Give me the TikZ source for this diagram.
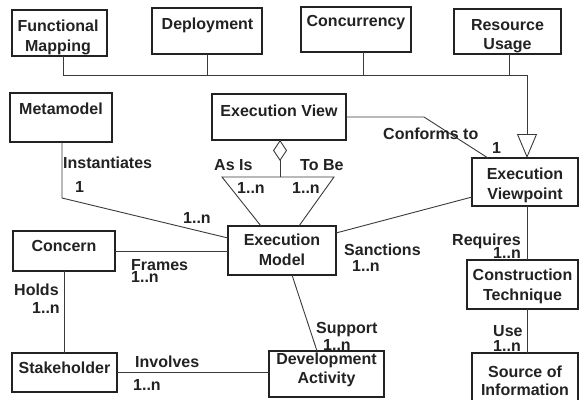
\documentclass[tikz,border=0pt]{standalone}
\usepackage{fontspec}
\setmainfont{Liberation Sans}
\usetikzlibrary{arrows.meta,calc}
\definecolor{ink}{HTML}{222222}
\definecolor{wire}{HTML}{3A3A3A}
\begin{document}
\begin{tikzpicture}[x=1pt,y=-1pt,
  box/.style={draw=ink,line width=1.1pt,inner sep=0pt,outer sep=0pt},
  txt/.style={text=ink,font=\fontsize{16}{19}\selectfont\bfseries,inner sep=0pt,anchor=base},
  lab/.style={text=ink,font=\fontsize{16}{19}\selectfont\bfseries,inner sep=0pt,anchor=base west},
  wire/.style={draw=wire,line width=0.9pt}]
\useasboundingbox (0,0) rectangle (580,399);
% boxes
\node[box,minimum width=95pt,minimum height=46pt] (fm) at (59.5,33) {};
\node[box,minimum width=110pt,minimum height=46pt] (dep) at (207,31) {};
\node[box,minimum width=110pt,minimum height=45pt] (conc) at (356,29.5) {};
\node[box,minimum width=107pt,minimum height=45pt] (ru) at (507.5,31.5) {};
\node[box,minimum width=102pt,minimum height=49pt] (meta) at (61,117.5) {};
\node[box,minimum width=134pt,minimum height=46pt] (ev) at (279,117) {};
\node[box,minimum width=106pt,minimum height=48pt] (vp) at (525,182) {};
\node[box,minimum width=108pt,minimum height=49pt] (em) at (282,250.5) {};
\node[box,minimum width=102pt,minimum height=40pt] (concern) at (64,251) {};
\node[box,minimum width=105pt,minimum height=39pt] (stake) at (64.5,372.5) {};
\node[box,minimum width=115pt,minimum height=46pt] (dev) at (326.5,374) {};
\node[box,minimum width=111pt,minimum height=49pt] (ct) at (522.5,284.5) {};
\node[box,minimum width=106pt,minimum height=49pt] (src) at (525,377.5) {};
% box texts
\node[txt] (t1) at (58,31) {Functional};
\node[txt] (t2) at (58,51) {Mapping};
\node[txt] (t3) at (207.5,29.5) {Deployment};
\node[txt] (t4) at (356,26) {Concurrency};
\node[txt] (t5) at (507.5,30.5) {Resource};
\node[txt] (t6) at (507.5,49) {Usage};
\node[txt] (t7) at (61,114) {Metamodel};
\node[txt] (t8) at (279,116) {Execution View};
\node[txt] (t9) at (525,179) {Execution};
\node[txt] (t10) at (525,199) {Viewpoint};
\node[txt] (t11) at (282,245) {Execution};
\node[txt] (t12) at (282,265) {Model};
\node[txt] (t13) at (64,251) {Concern};
\node[txt] (t14) at (64.5,373) {Stakeholder};
\node[txt] (t15) at (326.5,364) {Development};
\node[txt] (t16) at (326.5,383) {Activity};
\node[txt] (t17) at (522.5,280) {Construction};
\node[txt] (t18) at (522.5,300) {Technique};
\node[txt] (t19) at (525,377) {Source of};
\node[txt] (t20) at (525,395) {Information};
% coordinates
\coordinate (busL) at (63,75);
\coordinate (busR) at (527,75);
\coordinate (bend1) at (424,117);
\coordinate (mbend) at (62,198);
\coordinate (triL) at (222,177);
\coordinate (triM) at (280,177);
\coordinate (triR) at (334,177);
% generalisation bus
\draw[wire] ([xshift=3.5pt]fm.south) -- (busL) -- (busR);
\draw[wire] (dep.south) -- (dep.south |- busL);
\draw[wire] ([xshift=7pt]conc.south) -- ([xshift=7pt]conc.south |- busL);
\draw[wire] ([xshift=1.5pt]ru.south) -- ([xshift=1.5pt]ru.south |- busL);
\draw[wire,-{Triangle[open,length=24pt,width=20pt,line width=0.9pt]}] (busR) -- ([xshift=2pt]vp.north);
% conforms to
\draw[wire] (ev.east) -- (bend1) -- ([xshift=-37pt]vp.north);
% aggregation
\draw[wire,-{Diamond[open,length=21pt,width=14pt,line width=0.9pt]}] (triM) -- (triM |- ev.south);
\draw[wire] ([xshift=-21pt]em.north) -- (triL) -- (triR) -- ([xshift=17pt]em.north);
% other associations
\draw[wire] ([xshift=1pt]meta.south) -- (mbend) -- ([yshift=12.5pt]em.west);
\draw[wire] (concern.east) -- (concern.east -| em.west);
\draw[wire] (concern.south) -- (concern.south |- stake.north);
\draw[wire] (stake.east) -- (stake.east -| dev.west);
\draw[wire] ([xshift=10pt]em.south) -- ([xshift=-9.5pt]dev.north);
\draw[wire] ([yshift=17.5pt]em.east) -- ([yshift=-15pt]vp.west);
\draw[wire] ([xshift=2pt]vp.south) -- ([xshift=2pt]vp.south |- ct.north);
\draw[wire] ([xshift=4.5pt]ct.south) -- ([xshift=4.5pt]ct.south |- src.north);
% labels
\node[lab] (l1) at (63,168) {Instantiates};
\node[lab] (l2) at (75,192) {1};
\node[lab] (l3) at (183,223) {1..n};
\node[lab] (l4) at (214,170) {As Is};
\node[lab] (l5) at (300,170) {To Be};
\node[lab] (l6) at (237,193) {1..n};
\node[lab] (l7) at (292,193) {1..n};
\node[lab] (l8) at (383,139) {Conforms to};
\node[lab] (l9) at (492,153) {1};
\node[lab] (l10) at (131,270) {Frames};
\node[lab] (l11) at (131,282) {1..n};
\node[lab] (l12) at (14,295) {Holds};
\node[lab] (l13) at (32,313) {1..n};
\node[lab] (l14) at (135,367) {Involves};
\node[lab] (l15) at (133,390) {1..n};
\node[lab] (l16) at (344,255) {Sanctions};
\node[lab] (l17) at (352,271) {1..n};
\node[lab] (l18) at (316,333) {Support};
\node[lab] (l19) at (323,350) {1..n};
\node[lab] (l20) at (452,245) {Requires};
\node[lab] (l21) at (493,258) {1..n};
\node[lab] (l22) at (493,336) {Use};
\node[lab] (l23) at (493,351) {1..n};
\end{tikzpicture}
\end{document}
